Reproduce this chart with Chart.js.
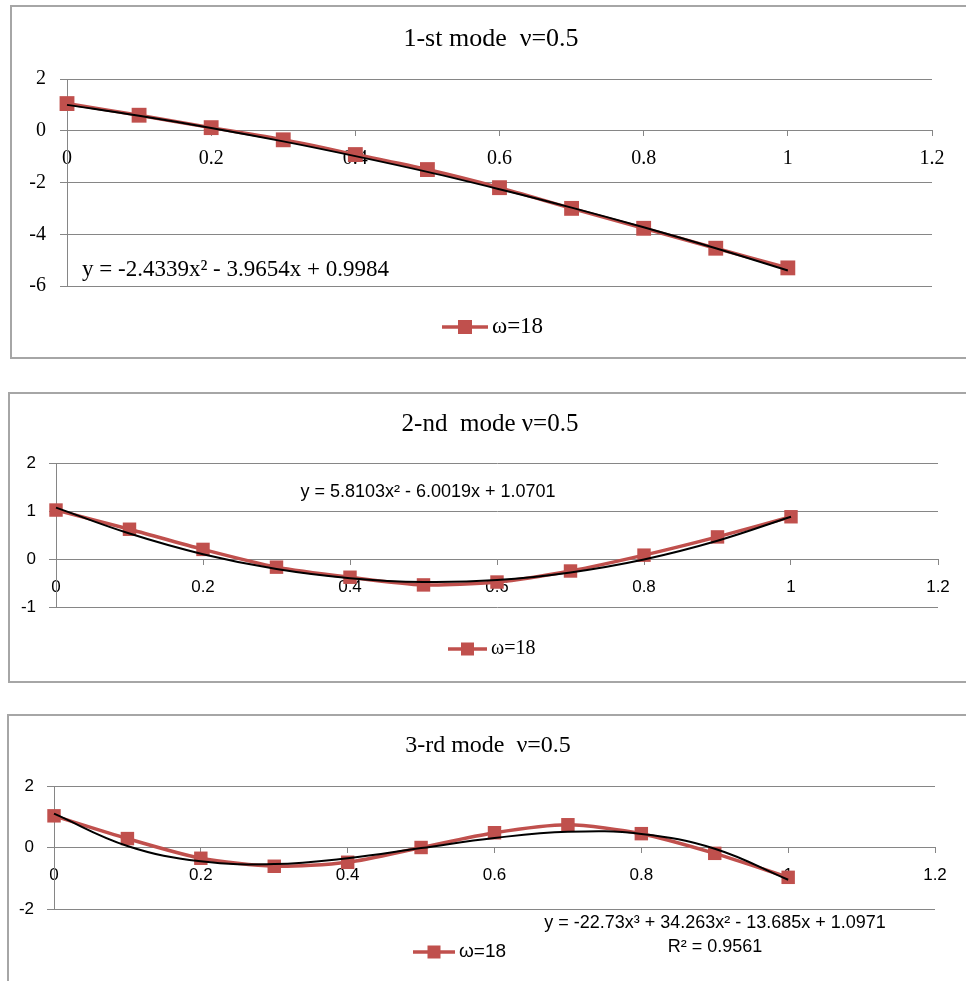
<!DOCTYPE html>
<html>
<head>
<meta charset="utf-8">
<script src="https://cdn.jsdelivr.net/npm/chart.js@4.4.1/dist/chart.umd.min.js"></script>
<style>
  body { margin: 0; width: 966px; height: 981px; overflow: hidden; background: #fff; position: relative; }
  .frame { position: absolute; border: 2px solid #a6a6a6; box-sizing: border-box; }
  canvas { position: absolute; left: 0; }
</style>
</head>
<body>
<div class="frame" style="left:10px; top:5px; width:970px; height:354px;"></div>
<div class="frame" style="left:8px; top:392px; width:970px; height:291px;"></div>
<div class="frame" style="left:7px; top:714px; width:970px; height:300px;"></div>
<canvas id="c1" width="966" height="362" style="top:0px"></canvas>
<canvas id="c2" width="966" height="300" style="top:385px"></canvas>
<canvas id="c3" width="966" height="276" style="top:705px"></canvas>
<script>
// abscissa, same for all three modes
const xValues = [0, 0.1, 0.2, 0.3, 0.4, 0.5, 0.6, 0.7, 0.8, 0.9, 1];

// 1-st mode: data (red squares) and trendline (black)
const mode1Values = [1.05, 0.6, 0.12, -0.35, -0.92, -1.5, -2.2, -3.0, -3.77, -4.54, -5.3];
const mode1Trend = [1.0, 0.58, 0.11, -0.41, -0.98, -1.59, -2.26, -2.97, -3.73, -4.54, -5.4];

// 2-nd mode
const mode2Values = [1.02, 0.62, 0.2, -0.17, -0.38, -0.54, -0.48, -0.25, 0.08, 0.46, 0.88];
const mode2Trend = [1.07, 0.53, 0.1, -0.21, -0.4, -0.48, -0.44, -0.28, -0.01, 0.38, 0.88];

// 3-rd mode
const mode3Values = [1.03, 0.29, -0.35, -0.61, -0.48, 0.0, 0.48, 0.74, 0.45, -0.19, -0.97];
const mode3Trend = [1.1, 0.05, -0.45, -0.54, -0.35, -0.02, 0.31, 0.51, 0.44, -0.04, -1.05];

// axis ticks
const xTicks = { min: 0, max: 1.2, step: 0.2 };
const mode1YTicks = { min: -6, max: 2, step: 2 };
const mode2YTicks = { min: -1, max: 2, step: 1 };
const mode3YTicks = { min: -2, max: 2, step: 2 };

const seriesName = 'ω=18';
const RED = '#c0504d';
const GRID = '#868686';
const SERIF = '"Liberation Serif", "Times New Roman", serif';
const SANS = '"Liberation Sans", Arial, sans-serif';

function toPoints(ys) {
    return xValues.map((x, i) => ({ x: x, y: ys[i] }));
}

// titles, equations and legend are drawn here
function notesPlugin(notes, legend) {
    return {
        id: 'notes',
        afterDraw(chart) {
            const ctx = chart.ctx;
            ctx.save();
            ctx.fillStyle = '#000';
            ctx.textBaseline = 'middle';
            notes.forEach(n => {
                ctx.font = n.font;
                ctx.textAlign = n.align || 'center';
                ctx.fillText(n.text, n.x, n.y);
            });
            // legend: line + square + label
            ctx.strokeStyle = RED;
            ctx.lineWidth = 3.5;
            ctx.beginPath();
            ctx.moveTo(legend.x1, legend.y);
            ctx.lineTo(legend.x2, legend.y);
            ctx.stroke();
            ctx.fillStyle = RED;
            const s = legend.size;
            ctx.fillRect((legend.x1 + legend.x2) / 2 - s / 2, legend.y - s / 2, s, s);
            ctx.fillStyle = '#000';
            ctx.font = legend.font;
            ctx.textAlign = 'left';
            ctx.fillText(seriesName, legend.x2 + 4, legend.y);
            ctx.restore();
        }
    };
}

function makeChart(id, cfg) {
    const ctx = document.getElementById(id).getContext('2d');
    return new Chart(ctx, {
        type: 'line',
        data: {
            datasets: [
                {
                    label: 'trend',
                    data: toPoints(cfg.trend),
                    borderColor: '#000',
                    borderWidth: 2,
                    pointRadius: 0,
                    tension: 0.4,
                    clip: false
                },
                {
                    label: seriesName,
                    data: toPoints(cfg.values),
                    borderColor: RED,
                    backgroundColor: RED,
                    borderWidth: 3.5,
                    pointStyle: 'rect',
                    pointRadius: cfg.radius,
                    pointBorderWidth: 0,
                    tension: 0.25,
                    clip: false
                }
            ]
        },
        options: {
            responsive: false,
            animation: false,
            devicePixelRatio: 1,
            layout: { padding: cfg.padding },
            plugins: {
                legend: { display: false },
                title: { display: false },
                tooltip: { enabled: false }
            },
            scales: {
                x: {
                    type: 'linear',
                    min: xTicks.min,
                    max: xTicks.max,
                    position: { y: 0 },
                    ticks: {
                        stepSize: xTicks.step,
                        color: '#000',
                        font: { family: cfg.tickFont, size: cfg.tickSize },
                        padding: cfg.xPad,
                        maxRotation: 0,
                        callback: v => String(Number(v.toFixed(1)))
                    },
                    grid: { drawOnChartArea: false, color: GRID, tickLength: 5 },
                    border: { color: GRID }
                },
                y: {
                    min: cfg.yTicks.min,
                    max: cfg.yTicks.max,
                    ticks: {
                        stepSize: cfg.yTicks.step,
                        color: '#000',
                        font: { family: cfg.tickFont, size: cfg.tickSize },
                        padding: cfg.yPad,
                        callback: v => String(v)
                    },
                    grid: { color: GRID, tickLength: 7 },
                    border: { color: GRID },
                    afterFit: s => { s.width = cfg.yWidth; }
                }
            }
        },
        plugins: [notesPlugin(cfg.notes, cfg.legend)]
    });
}

makeChart('c1', {
    values: mode1Values, trend: mode1Trend, yTicks: mode1YTicks, radius: 10.5,
    padding: { left: 27, right: 34, top: 79, bottom: 76 }, yWidth: 40,
    tickFont: SERIF, tickSize: 20, xPad: 11, yPad: 14,
    notes: [
        { text: '1-st mode  ν=0.5', x: 491, y: 39, font: '26px ' + SERIF },
        { text: 'y = -2.4339x² - 3.9654x + 0.9984', x: 82, y: 270, align: 'left', font: '23px ' + SERIF }
    ],
    legend: { x1: 442, x2: 488, y: 327, size: 14, font: '23px ' + SERIF }
});

makeChart('c2', {
    values: mode2Values, trend: mode2Trend, yTicks: mode2YTicks, radius: 9.5,
    padding: { left: 18, right: 28, top: 78, bottom: 78 }, yWidth: 38,
    tickFont: SANS, tickSize: 17, xPad: 13, yPad: 13,
    notes: [
        { text: '2-nd  mode ν=0.5', x: 490, y: 39, font: '25px ' + SERIF },
        { text: 'y = 5.8103x² - 6.0019x + 1.0701', x: 428, y: 107, font: '18px ' + SANS }
    ],
    legend: { x1: 448, x2: 487, y: 264, size: 13, font: '20px ' + SERIF }
});

makeChart('c3', {
    values: mode3Values, trend: mode3Trend, yTicks: mode3YTicks, radius: 9.5,
    padding: { left: 16, right: 31, top: 81, bottom: 72 }, yWidth: 38,
    tickFont: SANS, tickSize: 17, xPad: 13, yPad: 13,
    notes: [
        { text: '3-rd mode  ν=0.5', x: 488, y: 41, font: '24px ' + SERIF },
        { text: 'y = -22.73x³ + 34.263x² - 13.685x + 1.0971', x: 715, y: 218, font: '18px ' + SANS },
        { text: 'R² = 0.9561', x: 715, y: 242, font: '18px ' + SANS }
    ],
    legend: { x1: 413, x2: 455, y: 247, size: 13, font: '19px ' + SANS }
});
</script>
</body>
</html>
